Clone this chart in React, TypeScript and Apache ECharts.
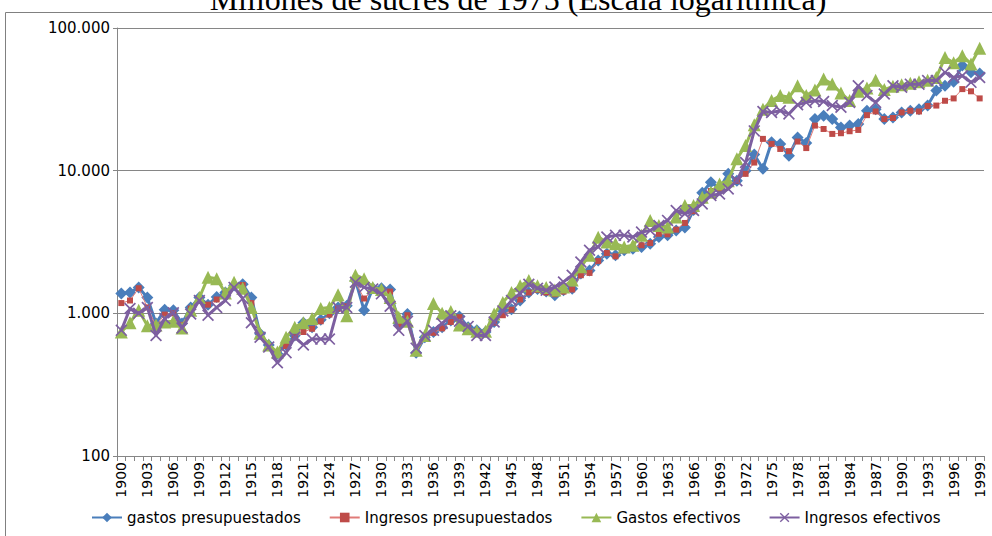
import React, { useEffect, useRef } from "react";
import * as echarts from "echarts";

const years: string[] = [];
for (let y = 1900; y <= 1999; y++) years.push(String(y));

const gastosPresupuestados = [
  1380, 1400, 1520, 1290, 850, 1060, 1050, 850, 1100, 1290,
  1150, 1300, 1400, 1570, 1600, 1290, 720, 600, 520, 600,
  700, 860, 800, 900, 1000, 1100, 1130, 1700, 1050, 1500,
  1500, 1470, 850, 990, 530, 680, 740, 800, 890, 950,
  800, 760, 740, 870, 1040, 1070, 1230, 1400, 1480, 1420,
  1340, 1450, 1490, 1900, 2000, 2350, 2620, 2550, 2770, 2840,
  2920, 3080, 3430, 3520, 3810, 4000, 5300, 7000, 8300, 7500,
  9500, 8500, 10000, 13000, 10300, 15800, 15400, 12700, 17100, 15600,
  23000, 24300, 23000, 20100, 20700, 21200, 26300, 27000, 23000, 23600,
  25600, 26300, 27000, 28600, 36400, 39400, 42000, 54500, 48900, 48000,
];

const ingresosPresupuestados = [
  1180, 1230, 1500, 1100, 820, 980, 1000, 830, 1080, 1250,
  1150, 1250, 1380, 1550, 1580, 1180, 700, 590, 510, 590,
  680, 740, 780, 880, 980, 1080, 1120, 1650, 1270, 1450,
  1450, 1420, 830, 970, 530, 670, 730, 785, 870, 940,
  790, 750, 730, 860, 970, 1060, 1250, 1400, 1460, 1400,
  1360, 1420, 1470, 1850, 1920, 2330, 2650, 2510, 2770, 2890,
  3000, 3110, 3610, 3580, 3860, 4300, 5200, 6300, 7200, 7500,
  8000, 8500, 9500, 11400, 16700, 15400, 14200, 13700, 16000, 14400,
  20700, 19600, 18100, 18300, 18900, 19300, 24500, 26000, 23000, 23400,
  25600, 26300, 26000, 28400, 28600, 30900, 32100, 37300, 36000, 32100,
];

const gastosEfectivos = [
  740, 860, 1050, 820, 830, 870, 880, 790, 1050, 1290,
  1790, 1750, 1390, 1650, 1500, 1100, 725, 600, 535, 680,
  800, 860, 920, 1080, 1100, 1350, 960, 1850, 1750, 1520,
  1470, 1290, 940, 880, 550, 700, 1170, 1000, 1030, 830,
  780, 750, 750, 990, 1190, 1400, 1560, 1700, 1560, 1520,
  1460, 1530, 1710, 2120, 2550, 3420, 3160, 3080, 2920, 3000,
  3520, 4480, 4130, 4030, 4730, 5700, 5700, 6500, 7060, 8080,
  8500, 12100, 15000, 21000, 27000, 31000, 33600, 32700, 39400, 33600,
  36800, 43900, 40500, 35000, 31000, 36000, 38000, 43000, 37000, 39000,
  40000, 41000, 42000, 43000, 45000, 62000, 57000, 64000, 56000, 72000,
];

const ingresosEfectivos = [
  760, 1080, 1000, 1100, 700, 920, 1010, 790, 990, 1230,
  970, 1100, 1230, 1520, 1270, 860, 680, 580, 450, 530,
  680, 600, 660, 660, 660, 1100, 1100, 1650, 1520, 1480,
  1370, 1120, 760, 880, 570, 700, 760, 850, 960, 880,
  810, 700, 700, 870, 1040, 1230, 1380, 1600, 1500, 1450,
  1530, 1660, 1850, 2290, 2770, 2920, 3430, 3520, 3520, 3430,
  3710, 3810, 4130, 4480, 5260, 4990, 5260, 5850, 6700, 6870,
  7450, 8500, 11400, 19000, 26000, 25600, 26300, 25000, 29000, 30100,
  30900, 30500, 28600, 27800, 30100, 39400, 33600, 30100, 34500, 39400,
  38400, 40400, 40400, 42800, 42800, 48900, 45000, 46300, 41600, 45000,
];

const seriesNames = [
  "gastos presupuestados",
  "Ingresos presupuestados",
  "Gastos efectivos",
  "Ingresos efectivos",
];

const titleText = "Millones de sucres de 1975 (Escala logarítmica)";

const X_SYMBOL =
  "path://M0,1 L1,0 L5,4 L9,0 L10,1 L6,5 L10,9 L9,10 L5,6 L1,10 L0,9 L4,5 Z";

function fmt(v: number): string {
  return String(Math.round(v)).replace(/\B(?=(\d{3})+(?!\d))/g, ".");
}

export default function App() {
  const ref = useRef<HTMLDivElement>(null);
  useEffect(() => {
    if (!ref.current) return;
    const chart = echarts.init(ref.current, undefined, { renderer: "svg" });
    const font = "DejaVu Sans";
    chart.setOption({
      animation: false,
      backgroundColor: "#ffffff",
      textStyle: { fontFamily: font },
      graphic: [
        {
          type: "rect",
          z: 0,
          shape: { x: 5.5, y: 12.5, width: 1000, height: 600 },
          style: { fill: "none", stroke: "#808080", lineWidth: 1 },
        },
        {
          type: "text",
          z: 1,
          style: {
            text: titleText,
            x: 518,
            y: 15,
            textAlign: "center",
            textVerticalAlign: "bottom",
            fontFamily: "Liberation Serif",
            fontSize: 32,
            fill: "#000000",
          },
        },
      ],
      grid: { left: 117, right: 8, top: 28, bottom: 80, containLabel: false },
      legend: {
        data: seriesNames,
        bottom: 6,
        left: 86,
        itemWidth: 30,
        itemHeight: 12,
        itemGap: 28,
        textStyle: { fontSize: 15, color: "#000", fontFamily: font },
      },
      xAxis: {
        type: "category",
        data: years,
        boundaryGap: true,
        axisLine: { lineStyle: { color: "#868686", width: 1 } },
        axisTick: { show: true, interval: 0, length: 5, lineStyle: { color: "#868686" } },
        axisLabel: {
          interval: 2,
          rotate: 90,
          fontSize: 14,
          color: "#000",
          margin: 6,
          fontFamily: font,
        },
        splitLine: { show: false },
      },
      yAxis: {
        type: "log",
        logBase: 10,
        min: 100,
        max: 100000,
        axisLine: { show: true, lineStyle: { color: "#868686", width: 1 } },
        axisTick: { show: true, length: 4, lineStyle: { color: "#868686" } },
        minorTick: { show: false },
        axisLabel: {
          formatter: (v: number) => fmt(v),
          fontSize: 15,
          color: "#000",
          margin: 7,
          fontFamily: font,
        },
        splitLine: { show: true, lineStyle: { color: "#868686", width: 1 } },
      },
      series: [
        {
          name: seriesNames[0],
          type: "line",
          data: gastosPresupuestados,
          symbol: "diamond",
          symbolSize: 12,
          showAllSymbol: true,
          lineStyle: { color: "#4A7EBB", width: 3 },
          itemStyle: { color: "#4A7EBB" },
          z: 2,
        },
        {
          name: seriesNames[1],
          type: "line",
          data: ingresosPresupuestados,
          symbol: "rect",
          symbolSize: 6,
          showAllSymbol: true,
          lineStyle: { color: "#E07B78", width: 1 },
          itemStyle: { color: "#BE4B48" },
          z: 3,
        },
        {
          name: seriesNames[2],
          type: "line",
          data: gastosEfectivos,
          symbol: "triangle",
          symbolSize: 13,
          showAllSymbol: true,
          lineStyle: { color: "#98B954", width: 3 },
          itemStyle: { color: "#98B954" },
          z: 4,
        },
        {
          name: seriesNames[3],
          type: "line",
          data: ingresosEfectivos,
          symbol: X_SYMBOL,
          symbolSize: 12,
          showAllSymbol: true,
          lineStyle: { color: "#7D5FA0", width: 3 },
          itemStyle: { color: "#7D5FA0" },
          z: 5,
        },
      ],
    });
    return () => chart.dispose();
  }, []);
  return (
    <div
      ref={ref}
      style={{ position: "fixed", left: 0, top: 0, width: 992, height: 536 }}
    />
  );
}
